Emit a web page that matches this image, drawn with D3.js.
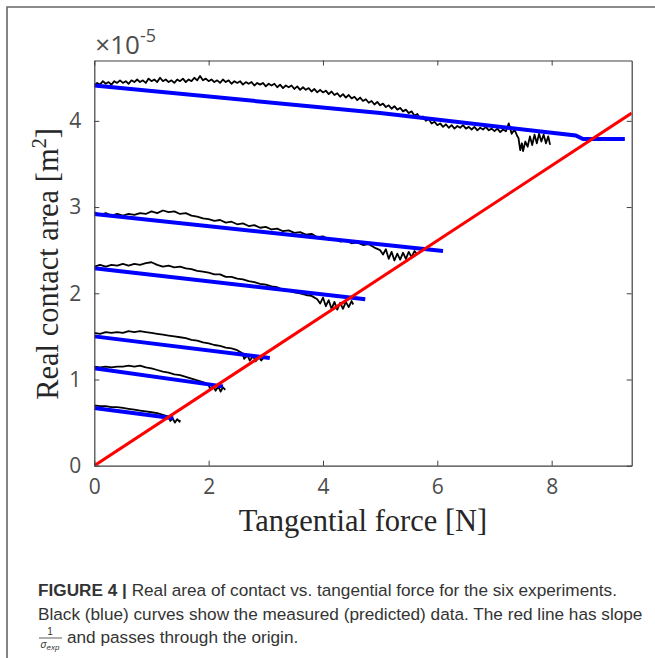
<!DOCTYPE html>
<html>
<head>
<meta charset="utf-8">
<script src="https://cdn.jsdelivr.net/npm/d3@7"></script>
<style>
  body { margin: 0; background: #fff; }
  svg { display: block; }
</style>
</head>
<body>
<div id="chart"></div>
<script>
// Tangential force [N] vs real contact area [x1e-5 m^2].
// measured (black) curves, one per experiment
var measured1 = [[0,4.41],[0.05,4.44],[0.1,4.42],[0.15,4.46],[0.2,4.43],[0.25,4.45],[0.3,4.42],[0.35,4.46],[0.4,4.44],[0.45,4.47],
  [0.5,4.44],[0.55,4.46],[0.6,4.43],[0.65,4.47],[0.7,4.45],[0.75,4.48],[0.8,4.45],[0.85,4.47],[0.9,4.44],[0.95,4.49],
  [1,4.46],[1.05,4.48],[1.1,4.45],[1.15,4.5],[1.2,4.46],[1.25,4.48],[1.3,4.45],[1.35,4.47],[1.4,4.44],[1.45,4.48],
  [1.5,4.46],[1.55,4.49],[1.6,4.45],[1.65,4.48],[1.7,4.46],[1.75,4.5],[1.8,4.47],[1.85,4.52],[1.9,4.47],[1.95,4.49],
  [2,4.46],[2.05,4.48],[2.1,4.45],[2.15,4.47],[2.2,4.44],[2.25,4.48],[2.3,4.45],[2.35,4.47],[2.4,4.43],[2.45,4.46],
  [2.5,4.44],[2.55,4.46],[2.6,4.42],[2.65,4.45],[2.7,4.43],[2.75,4.45],[2.8,4.41],[2.85,4.44],[2.9,4.42],[2.95,4.44],
  [3,4.4],[3.05,4.43],[3.1,4.41],[3.15,4.43],[3.2,4.39],[3.25,4.42],[3.3,4.38],[3.35,4.41],[3.4,4.39],[3.45,4.41],
  [3.5,4.37],[3.55,4.4],[3.6,4.36],[3.65,4.39],[3.7,4.36],[3.75,4.38],[3.8,4.34],[3.85,4.37],[3.9,4.33],[3.95,4.36],
  [4,4.33],[4.05,4.35],[4.1,4.31],[4.15,4.34],[4.2,4.3],[4.25,4.32],[4.3,4.28],[4.35,4.31],[4.4,4.27],[4.45,4.3],
  [4.5,4.26],[4.55,4.28],[4.6,4.24],[4.65,4.27],[4.7,4.23],[4.75,4.25],[4.8,4.21],[4.85,4.23],[4.9,4.19],[4.95,4.22],
  [5,4.18],[5.05,4.2],[5.1,4.16],[5.15,4.18],[5.2,4.14],[5.25,4.17],[5.3,4.13],[5.35,4.15],[5.4,4.11],[5.45,4.13],
  [5.5,4.09],[5.55,4.11],[5.6,4.06],[5.65,4.08],[5.7,4.03],[5.75,4.05],[5.8,4],[5.85,4.02],[5.9,3.97],[5.95,3.99],
  [6,3.95],[6.05,3.97],[6.1,3.93],[6.15,3.96],[6.2,3.92],[6.25,3.95],[6.3,3.91],[6.35,3.94],[6.4,3.92],[6.45,3.95],
  [6.5,3.91],[6.55,3.93],[6.6,3.9],[6.65,3.93],[6.7,3.89],[6.75,3.92],[6.8,3.9],[6.85,3.93],[6.9,3.89],[6.95,3.91],
  [7,3.88],[7.05,3.91],[7.1,3.87],[7.15,3.9],[7.2,3.88],[7.25,3.97],[7.3,3.85],[7.35,3.9],[7.4,3.82],
  [7.42,3.8],[7.45,3.66],[7.48,3.74],[7.5,3.65],[7.54,3.76],[7.58,3.7],[7.62,3.82],[7.66,3.72],[7.7,3.84],[7.74,3.74],
  [7.78,3.85],[7.82,3.76],[7.86,3.84],[7.9,3.74],[7.94,3.82],[7.97,3.73],[7.95,3.79]];

var measured2 = [[0,2.94],[0.1,2.91],[0.2,2.93],[0.3,2.9],[0.4,2.92],[0.5,2.9],[0.6,2.92],[0.7,2.91],[0.8,2.93],[0.9,2.92],
  [1,2.95],[1.1,2.93],[1.2,2.96],[1.3,2.94],[1.4,2.95],[1.5,2.92],[1.6,2.93],[1.7,2.9],[1.8,2.89],[1.9,2.87],
  [2,2.86],[2.1,2.84],[2.2,2.85],[2.3,2.82],[2.4,2.83],[2.5,2.8],[2.6,2.81],[2.7,2.78],[2.8,2.79],[2.9,2.76],
  [3,2.77],[3.1,2.74],[3.2,2.75],[3.3,2.72],[3.4,2.73],[3.5,2.7],[3.6,2.71],[3.7,2.68],[3.8,2.69],[3.9,2.65],
  [4,2.66],[4.1,2.62],[4.2,2.63],[4.3,2.6],[4.4,2.61],[4.5,2.58],[4.6,2.59],[4.7,2.56],[4.8,2.57],[4.9,2.53],
  [5,2.5],[5.05,2.45],[5.1,2.51],[5.15,2.4],[5.2,2.48],[5.25,2.38],[5.3,2.46],[5.35,2.39],[5.4,2.47],[5.45,2.4],
  [5.5,2.48],[5.55,2.42],[5.6,2.49],[5.65,2.45]];

var measured3 = [[0,2.31],[0.1,2.33],[0.2,2.31],[0.3,2.33],[0.4,2.32],[0.5,2.34],[0.6,2.32],[0.7,2.34],[0.8,2.33],[0.9,2.35],
  [1,2.36],[1.1,2.33],[1.2,2.31],[1.3,2.32],[1.4,2.3],[1.5,2.31],[1.6,2.29],[1.7,2.28],[1.8,2.26],[1.9,2.25],
  [2,2.24],[2.1,2.22],[2.2,2.22],[2.3,2.19],[2.4,2.19],[2.5,2.17],[2.6,2.16],[2.7,2.14],[2.8,2.13],[2.9,2.11],
  [3,2.1],[3.1,2.08],[3.2,2.07],[3.3,2.04],[3.4,2.03],[3.5,2.01],[3.6,2],[3.7,1.98],[3.8,1.97],[3.9,1.93],
  [3.95,1.88],[4,1.95],[4.05,1.85],[4.1,1.92],[4.15,1.82],[4.2,1.9],[4.25,1.81],[4.3,1.89],[4.35,1.82],[4.4,1.9],
  [4.45,1.84],[4.5,1.91],[4.53,1.87]];

var measured4 = [[0,1.54],[0.1,1.53],[0.2,1.55],[0.3,1.54],[0.4,1.55],[0.5,1.54],[0.6,1.56],[0.7,1.55],[0.8,1.56],[0.9,1.55],
  [1,1.54],[1.1,1.53],[1.2,1.52],[1.3,1.51],[1.4,1.5],[1.5,1.49],[1.6,1.48],[1.7,1.46],[1.8,1.45],[1.9,1.43],
  [2,1.42],[2.1,1.4],[2.2,1.39],[2.3,1.37],[2.4,1.36],[2.5,1.34],[2.6,1.3],
  [2.62,1.24],[2.68,1.28],[2.72,1.22],[2.78,1.27],[2.82,1.21],[2.88,1.26],[2.92,1.22],[2.96,1.25]];

var measured5 = [[0,1.15],[0.1,1.14],[0.2,1.15],[0.3,1.14],[0.4,1.15],[0.5,1.15],[0.6,1.16],[0.7,1.15],[0.8,1.16],[0.9,1.14],
  [1,1.13],[1.1,1.11],[1.2,1.09],[1.3,1.08],[1.4,1.06],[1.5,1.05],[1.6,1.03],[1.7,1.01],[1.8,0.99],[1.9,0.97],
  [2,0.94],[2.03,0.88],[2.08,0.93],[2.12,0.87],[2.17,0.92],[2.21,0.86],[2.25,0.91],[2.29,0.88]];

var measured6 = [[0,0.7],[0.1,0.69],[0.2,0.69],[0.3,0.68],[0.4,0.68],[0.5,0.67],[0.6,0.66],[0.7,0.65],[0.8,0.64],[0.9,0.63],
  [1,0.62],[1.1,0.61],[1.2,0.59],[1.3,0.57],[1.33,0.52],[1.37,0.55],[1.41,0.5],[1.45,0.54],[1.49,0.51],[1.5,0.53]];

// predicted (blue) curves
var predicted1 = [[0,4.41],[5,4.09],[8.42,3.83],[8.55,3.79],[9.28,3.79]];
var predicted2 = [[0,2.92],[6.1,2.49]];
var predicted3 = [[0,2.29],[4.74,1.93]];
var predicted4 = [[0,1.5],[3.07,1.25]];
var predicted5 = [[0,1.13],[2.25,0.92]];
var predicted6 = [[0,0.67],[1.38,0.55]];

// red line through the origin, slope 1/sigma_exp
var redLine = [[0,0],[9.4,4.09]];

var xTicks = [0, 2, 4, 6, 8];
var yTicks = [0, 1, 2, 3, 4];
var xDomain = [0, 9.4];
var yDomain = [0, 4.7];

var measured = [measured1, measured2, measured3, measured4, measured5, measured6];
var predicted = [predicted1, predicted2, predicted3, predicted4, predicted5, predicted6];

var W = 655, H = 658;
var plot = {left: 94.3, right: 631.7, top: 60.5, bottom: 465.7};

var svg = d3.select("#chart").append("svg")
    .attr("width", W)
    .attr("height", H);

// grey frame round the figure
svg.append("path")
    .attr("d", "M7,658 L7,7 L655,7")
    .attr("fill", "none")
    .attr("stroke", "#666")
    .attr("stroke-width", 1.6);

var x = d3.scaleLinear().domain(xDomain).range([plot.left, plot.right]);
var y = d3.scaleLinear().domain(yDomain).range([plot.bottom, plot.top]);

svg.append("clipPath").attr("id", "clip")
  .append("rect")
    .attr("x", plot.left).attr("y", plot.top)
    .attr("width", plot.right - plot.left)
    .attr("height", plot.bottom - plot.top);

var line = d3.line()
    .x(function(d) { return x(d[0]); })
    .y(function(d) { return y(d[1]); });

var g = svg.append("g").attr("clip-path", "url(#clip)");

g.selectAll("path.meas")
    .data(measured)
    .enter().append("path")
    .attr("class", "meas")
    .attr("d", line)
    .attr("fill", "none")
    .attr("stroke", "#000")
    .attr("stroke-width", 1.8)
    .attr("stroke-linejoin", "round");

g.selectAll("path.pred")
    .data(predicted)
    .enter().append("path")
    .attr("class", "pred")
    .attr("d", line)
    .attr("fill", "none")
    .attr("stroke", "#0000ff")
    .attr("stroke-width", 4);

g.append("path")
    .datum(redLine)
    .attr("d", line)
    .attr("fill", "none")
    .attr("stroke", "#ff0000")
    .attr("stroke-width", 3);

// axes, MATLAB style box with inward ticks
var tickFont = "'Open Sans', 'Noto Sans', sans-serif";
var axisCol = "#404040";

var xAxis = svg.append("g")
    .attr("transform", "translate(0," + plot.bottom + ")")
    .call(d3.axisBottom(x).tickValues(xTicks).tickFormat(d3.format("d"))
        .tickSizeInner(-5).tickSizeOuter(0).tickPadding(13));
var yAxis = svg.append("g")
    .attr("transform", "translate(" + plot.left + ",0)")
    .call(d3.axisLeft(y).tickValues(yTicks).tickFormat(d3.format("d"))
        .tickSizeInner(-5).tickSizeOuter(0).tickPadding(13));
var xTop = svg.append("g")
    .attr("transform", "translate(0," + plot.top + ")")
    .call(d3.axisTop(x).tickValues(xTicks).tickSizeInner(-5).tickSizeOuter(0).tickFormat(""));
var yRight = svg.append("g")
    .attr("transform", "translate(" + plot.right + ",0)")
    .call(d3.axisRight(y).tickValues(yTicks).tickSizeInner(-5).tickSizeOuter(0).tickFormat(""));

[xAxis, yAxis, xTop, yRight].forEach(function(a) {
    a.select(".domain").attr("stroke", axisCol).attr("stroke-width", 1.2);
    a.selectAll(".tick line").attr("stroke", axisCol).attr("stroke-width", 1);
    a.selectAll(".tick text")
        .attr("font-family", tickFont)
        .attr("font-size", 21)
        .attr("fill", "#4d4d4d");
});

// exponent label
var expo = svg.append("text")
    .attr("x", plot.left + 1)
    .attr("y", 54)
    .attr("font-family", tickFont)
    .attr("font-size", 26)
    .attr("fill", "#4d4d4d");
expo.append("tspan").text("\u00d710");
expo.append("tspan").attr("font-size", 18).attr("dy", -12).text("-5");

// axis titles
var serif = "'Liberation Serif', 'DejaVu Serif', serif";
svg.append("text")
    .attr("x", (plot.left + plot.right) / 2)
    .attr("y", 531)
    .attr("text-anchor", "middle")
    .attr("font-family", serif)
    .attr("font-size", 30.5)
    .attr("fill", "#262626")
    .text("Tangential force [N]");

var yl = svg.append("text")
    .attr("transform", "translate(58," + 264 + ") rotate(-90)")
    .attr("text-anchor", "middle")
    .attr("font-family", serif)
    .attr("font-size", 30.5)
    .attr("fill", "#262626");
yl.append("tspan").text("Real contact area [m");
yl.append("tspan").attr("font-size", 20).attr("dy", -12).text("2");
yl.append("tspan").attr("dy", 12).text("]");

// caption
var capFont = "'Liberation Sans', Arial, sans-serif";
var capSize = 17.2;
var cap1 = svg.append("text")
    .attr("x", 38).attr("y", 596)
    .attr("font-family", capFont).attr("font-size", capSize).attr("fill", "#333");
cap1.append("tspan").attr("font-weight", "bold").text("FIGURE 4 | ");
cap1.append("tspan").text("Real area of contact vs. tangential force for the six experiments.");

svg.append("text")
    .attr("x", 38).attr("y", 620)
    .attr("font-family", capFont).attr("font-size", capSize).attr("fill", "#333")
    .text("Black (blue) curves show the measured (predicted) data. The red line has slope");

// fraction 1 / sigma_exp
svg.append("text")
    .attr("x", 50).attr("y", 635)
    .attr("text-anchor", "middle")
    .attr("font-family", capFont).attr("font-size", 10).attr("fill", "#333")
    .text("1");
svg.append("line")
    .attr("x1", 39).attr("x2", 62).attr("y1", 638).attr("y2", 638)
    .attr("stroke", "#333").attr("stroke-width", 0.8);
var sig = svg.append("text")
    .attr("x", 50).attr("y", 648)
    .attr("text-anchor", "middle")
    .attr("font-family", capFont).attr("font-size", 10).attr("fill", "#333")
    .attr("font-style", "italic");
sig.append("tspan").text("\u03c3");
sig.append("tspan").attr("font-size", 8).attr("dy", 2).text("exp");

svg.append("text")
    .attr("x", 67).attr("y", 643)
    .attr("font-family", capFont).attr("font-size", capSize).attr("fill", "#333")
    .text("and passes through the origin.");
</script>
</body>
</html>
